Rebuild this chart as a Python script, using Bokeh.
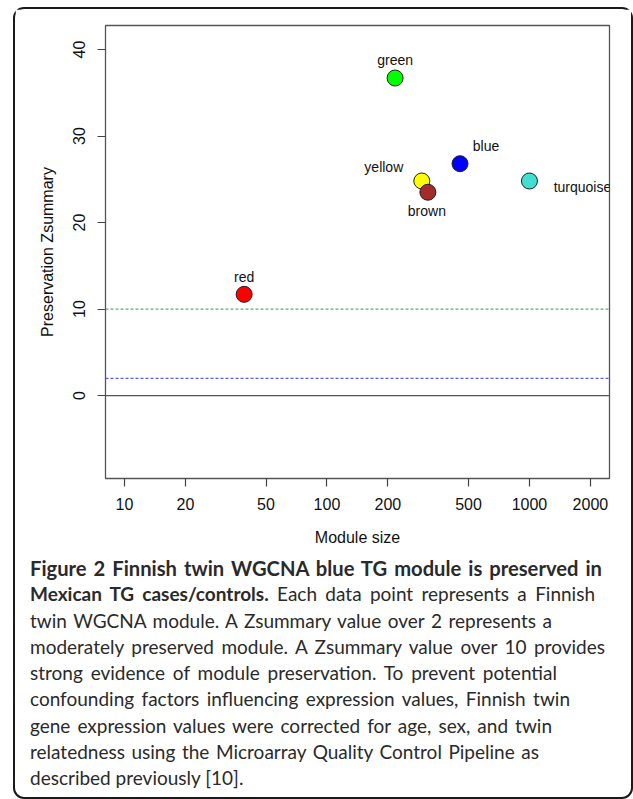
from bokeh.plotting import figure
from bokeh.layouts import column
from bokeh.models import (Range1d, FixedTicker, PrintfTickFormatter,
                          ColumnDataSource, Span, Div)
from bokeh.core.properties import value
from bokeh.embed import file_html
from bokeh.resources import INLINE

# ---- data -------------------------------------------------------------
modules = ["red", "green", "blue", "yellow", "brown", "turquoise"]
module_size = [39, 217, 454, 294, 315, 1000]
zsummary = [11.7, 36.7, 26.8, 24.8, 23.5, 24.8]
fill_colors = ["#FF0000", "#00FF00", "#0000FF", "#FFFF00", "#A52A2A", "#40E0D0"]
label_dx = [0, 0, 26, -38, -1, 53]
label_dy = [-17, -18, -18, -14, 19, 6]

x_ticks = [10, 20, 50, 100, 200, 500, 1000, 2000]
y_ticks = [0, 10, 20, 30, 40]

threshold_values = [10, 2, 0]
threshold_colors = ["#6aad6a", "#5c5cf0", "#555555"]
threshold_dashes = ["3 2", "3 2", "solid"]

caption_bold_1 = "Figure 2 Finnish twin WGCNA blue TG module is preserved in"
caption_bold_2 = "Mexican TG cases/controls."
caption_rest_2 = "Each data point represents a Finnish"
caption_lines = [
    "twin WGCNA module. A Zsummary value over 2 represents a",
    "moderately preserved module. A Zsummary value over 10 provides",
    "strong evidence of module preservation. To prevent potential",
    "confounding factors influencing expression values, Finnish twin",
    "gene expression values were corrected for age, sex, and twin",
    "relatedness using the Microarray Quality Control Pipeline as",
    "described previously [10].",
]

W = 616
p = figure(width=W, height=544, output_backend="svg", toolbar_location=None,
           x_axis_type="log",
           x_range=Range1d(8.06, 2485), y_range=Range1d(-9.58, 42.77),
           min_border_left=90, min_border_top=16, min_border_right=22,
           min_border_bottom=75)
p.grid.visible = False
p.background_fill_color = "white"
p.border_fill_color = "white"
p.outline_line_color = "#555555"
p.outline_line_width = 1.3

for ax, ticks in ((p.xaxis[0], x_ticks), (p.yaxis[0], y_ticks)):
    ax.ticker = FixedTicker(ticks=ticks, minor_ticks=[])
    ax.axis_line_color = None
    ax.major_tick_in = 0
    ax.major_tick_out = 8
    ax.major_tick_line_color = "#444444"
    ax.major_tick_line_width = 1.2
    ax.minor_tick_line_color = None
    ax.major_label_text_font = "Liberation Sans"
    ax.major_label_text_font_size = "16px"
    ax.major_label_text_color = "#111111"
    ax.axis_label_text_font = "Liberation Sans"
    ax.axis_label_text_font_size = "16px"
    ax.axis_label_text_font_style = "normal"
    ax.axis_label_text_color = "#111111"

p.xaxis.formatter = PrintfTickFormatter(format="%d")
p.yaxis.formatter = PrintfTickFormatter(format="%d")
p.xaxis.axis_label = "Module size"
p.yaxis.axis_label = "Preservation Zsummary"
p.yaxis.major_label_orientation = "vertical"
p.xaxis.major_label_standoff = 11
p.yaxis.major_label_standoff = 12
p.xaxis.axis_label_standoff = 16
p.yaxis.axis_label_standoff = 15

for v, c, d in zip(threshold_values, threshold_colors, threshold_dashes):
    p.add_layout(Span(location=v, dimension="width", line_color=c,
                      line_width=1.3, line_dash=d))

src = ColumnDataSource(dict(x=module_size, y=zsummary, name=modules,
                            color=fill_colors, dx=label_dx, dy=label_dy))
p.scatter("x", "y", source=src, size=16, fill_color="color",
          line_color="#222222", line_width=1)
p.text("x", "y", text="name", source=src, x_offset="dx", y_offset="dy",
       text_align="center", text_baseline="middle",
       text_font=value("Liberation Sans"), text_font_size="14px",
       text_color="#111111")

# ---- caption ------------------------------------------------------------
# line widths (px) taken from the reference's ragged right edge
line_widths = [572, 565, 522, 575, 527, 540, 522, 509, None]
line_html = [f"<b style=\"font-size:20.2px\">{caption_bold_1}</b>",
             f"<b style=\"font-size:19px\">{caption_bold_2}</b> {caption_rest_2}"
             ] + caption_lines
rows = []
for txt, w in zip(line_html, line_widths):
    if w is None:
        rows.append(f"<div style=\"height:26.25px\">{txt}</div>")
    else:
        rows.append(f"<div style=\"width:{w}px;height:26.25px;text-align:justify;"
                    f"text-align-last:justify\">{txt}</div>")
html = ("<div style=\"font-family:Lato,sans-serif;font-size:19px;"
        "line-height:26.25px;color:#2a2a2a;padding-left:10px;margin-top:-3px;\">"
        + "".join(rows) + "</div>")
cap = Div(text=html, width=W, height=244)

layout = column(p, cap, spacing=0,
                styles={"border": "2px solid #1a1a1a", "border-radius": "11px",
                        "margin-left": "13px", "margin-top": "7px",
                        "width": "620px", "height": "792px",
                        "box-sizing": "border-box", "background": "white"})

open("out.html", "w").write(file_html(layout, INLINE))
